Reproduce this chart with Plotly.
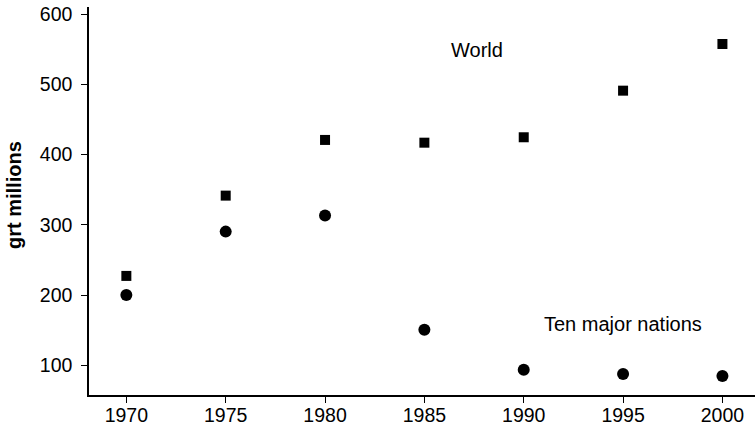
import plotly.graph_objects as go

years = [1970, 1975, 1980, 1985, 1990, 1995, 2000]
world = [227.5, 341.7, 420.9, 417, 424.7, 491, 557.4]
ten_major = [200.5, 290.5, 313.3, 150.8, 94, 88, 85]
y_ticks = [100, 200, 300, 400, 500, 600]

FONT = "Liberation Sans, Arial, sans-serif"

fig = go.Figure()
fig.add_trace(go.Scatter(x=years, y=world, mode="markers", name="World",
                         marker=dict(symbol="square", size=10, color="black")))
fig.add_trace(go.Scatter(x=years, y=ten_major, mode="markers", name="Ten major nations",
                         marker=dict(symbol="circle", size=12, color="black")))

fig.add_annotation(x=1987.66, y=548.8, text="World", showarrow=False,
                   font=dict(family=FONT, size=20, color="black"))
fig.add_annotation(x=1995.0, y=159.3, text="Ten major nations", showarrow=False,
                   font=dict(family=FONT, size=20, color="black"))
fig.add_annotation(xref="paper", yref="paper", x=(14 - 89) / 666, y=(395 - 195) / 388,
                   text="<b>grt millions</b>", showarrow=False, textangle=-90,
                   xanchor="center", yanchor="middle",
                   font=dict(family=FONT, size=20, color="black"))

fig.update_layout(
    width=755, height=430,
    margin=dict(l=89, r=0, t=7, b=35),
    paper_bgcolor="white", plot_bgcolor="white",
    showlegend=False,
    font=dict(family=FONT, size=20, color="black"),
)
fig.update_xaxes(range=[1968.12, 2001.64], tickvals=years, ticks="outside", ticklen=6,
                 tickwidth=1, tickcolor="black", showline=True, linecolor="black",
                 linewidth=1.5, showgrid=False, zeroline=False, automargin=False,
                 ticklabelstandoff=-4,
                 tickfont=dict(family=FONT, size=19.5))
fig.update_yaxes(range=[58.1, 610], tickvals=y_ticks, ticks="outside", ticklen=6,
                 tickwidth=1, tickcolor="black", showline=True, linecolor="black",
                 linewidth=1.5, showgrid=False, zeroline=False, automargin=False,
                 ticklabelstandoff=5,
                 tickfont=dict(family=FONT, size=19.5))

fig.write_html("out.html", config={"displayModeBar": False},
               post_script="document.body.style.margin='0';")
